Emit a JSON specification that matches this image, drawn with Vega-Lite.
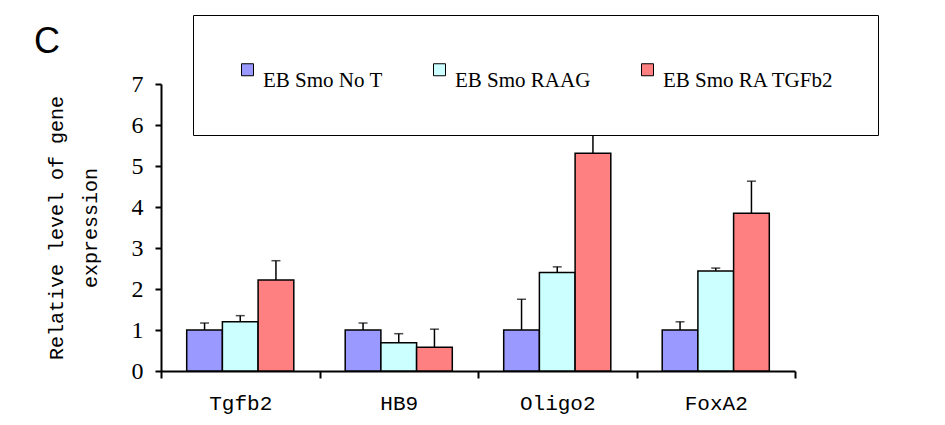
{
  "$schema": "https://vega.github.io/schema/vega-lite/v6.json",
  "autosize": {"type": "none"},
  "padding": {"left": 161, "top": 84, "right": 150, "bottom": 54},
  "width": 634,
  "height": 287,
  "background": "white",
  "title": {"text": "C", "anchor": "start", "font": "Liberation Sans", "fontSize": 36, "fontWeight": "normal", "color": "black", "dx": -12, "offset": -46},
  "config": {"view": {"stroke": null}},
  "data": {"values": [
    {"gene": "Tgfb2", "group": "EB Smo No T", "value": 1.0, "upper": 1.17},
    {"gene": "Tgfb2", "group": "EB Smo RAAG", "value": 1.2, "upper": 1.35},
    {"gene": "Tgfb2", "group": "EB Smo RA TGFb2", "value": 2.22, "upper": 2.69},
    {"gene": "HB9", "group": "EB Smo No T", "value": 1.0, "upper": 1.17},
    {"gene": "HB9", "group": "EB Smo RAAG", "value": 0.69, "upper": 0.91},
    {"gene": "HB9", "group": "EB Smo RA TGFb2", "value": 0.58, "upper": 1.02},
    {"gene": "Oligo2", "group": "EB Smo No T", "value": 1.0, "upper": 1.75},
    {"gene": "Oligo2", "group": "EB Smo RAAG", "value": 2.4, "upper": 2.54},
    {"gene": "Oligo2", "group": "EB Smo RA TGFb2", "value": 5.31, "upper": 5.94},
    {"gene": "FoxA2", "group": "EB Smo No T", "value": 1.0, "upper": 1.2},
    {"gene": "FoxA2", "group": "EB Smo RAAG", "value": 2.44, "upper": 2.51},
    {"gene": "FoxA2", "group": "EB Smo RA TGFb2", "value": 3.85, "upper": 4.63}
  ]},
  "encoding": {
    "x": {
      "field": "gene", "type": "nominal",
      "sort": ["Tgfb2", "HB9", "Oligo2", "FoxA2"],
      "scale": {"paddingInner": 0, "paddingOuter": 0},
      "axis": {
        "title": null, "labelAngle": 0, "labelFont": "Liberation Mono", "labelFontSize": 21, "labelFontWeight": "normal",
        "labelColor": "black", "labelPadding": 14, "tickBand": "extent", "tickSize": 7, "tickWidth": 2, "tickColor": "black",
        "domainColor": "black", "domainWidth": 2
      }
    },
    "xOffset": {
      "field": "group", "type": "nominal",
      "sort": ["EB Smo No T", "EB Smo RAAG", "EB Smo RA TGFb2"],
      "scale": {"paddingInner": 0, "paddingOuter": 0.72}
    }
  },
  "layer": [
    {
      "mark": {"type": "bar", "stroke": "black", "strokeWidth": 1.5},
      "encoding": {
        "y": {
          "field": "value", "type": "quantitative",
          "scale": {"domain": [0, 7], "nice": false},
          "axis": {
            "values": [0, 1, 2, 3, 4, 5, 6, 7], "grid": false,
            "labelFont": "Liberation Serif", "labelFontSize": 24, "labelColor": "black", "labelPadding": 12,
            "tickSize": 6, "tickWidth": 2, "tickColor": "black", "domainColor": "black", "domainWidth": 2,
            "title": ["Relative level of gene", "expression"], "titleFont": "Liberation Mono", "titleFontSize": 20,
            "titleFontWeight": "normal", "titleColor": "black", "titleLineHeight": 34, "titlePadding": 31
          }
        },
        "color": {
          "field": "group", "type": "nominal",
          "scale": {"domain": ["EB Smo No T", "EB Smo RAAG", "EB Smo RA TGFb2"], "range": ["#9999FF", "#CCFFFF", "#FF8080"]},
          "legend": {
            "title": null, "orient": "none", "legendX": 32, "legendY": -69, "direction": "horizontal",
            "padding": 44, "strokeColor": "black", "fillColor": "white", "columnPadding": 46,
            "labelFont": "Liberation Serif", "labelFontSize": 21, "labelColor": "black", "labelOffset": 5, "labelLimit": 400,
            "labelBaseline": "top",
            "symbolType": "square", "symbolSize": 144, "symbolStrokeColor": "black", "symbolStrokeWidth": 1, "symbolOpacity": 1
          }
        }
      }
    },
    {
      "mark": {"type": "rule", "color": "black", "strokeWidth": 1.5},
      "encoding": {
        "y": {"field": "value", "type": "quantitative"},
        "y2": {"field": "upper"}
      }
    },
    {
      "mark": {"type": "tick", "color": "black", "size": 9, "thickness": 1.5},
      "encoding": {
        "y": {"field": "upper", "type": "quantitative"}
      }
    }
  ]
}
